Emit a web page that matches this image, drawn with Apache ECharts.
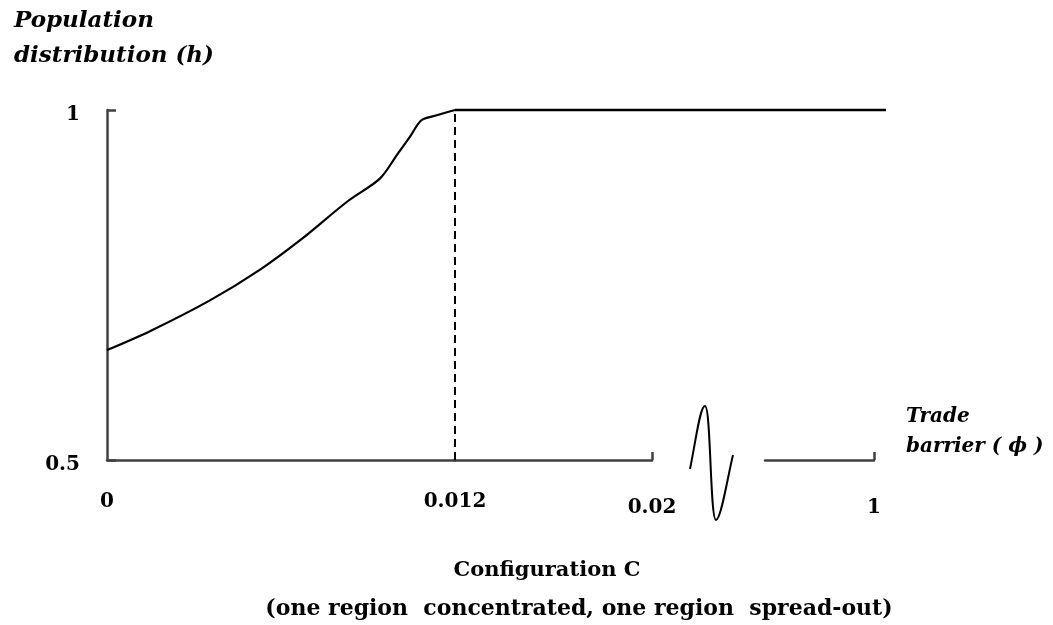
<!DOCTYPE html>
<html>
<head>
<meta charset="utf-8">
<script src="https://cdn.jsdelivr.net/npm/echarts@6/dist/echarts.min.js"></script>
<style>
html,body{margin:0;padding:0;background:#fff;}
#chart{width:1053px;height:625px;}
</style>
</head>
<body>
<div id="chart"></div>
<script>
// ---- data ----
const curvePhi = [0, 0.00148, 0.00355, 0.00528, 0.00666, 0.00831, 0.00941, 0.0100, 0.01045, 0.01083, 0.01124, 0.012];
const curveH   = [0.657, 0.684, 0.728, 0.772, 0.814, 0.870, 0.902, 0.936, 0.962, 0.985, 0.991, 1.0];
const flatPhi  = [0.012, 1];
const flatH    = [1, 1];
const thresholdPhi = [0.012, 0.012];
const thresholdH   = [0.5, 1];
const yTickValues = [0.5, 1];
const yTickLabels = ['0.5', '1'];
const xTickValues = [0, 0.012, 0.02, 1];
const xTickLabels = ['0', '0.012', '0.02', '1'];
const yTitle = 'Population\ndistribution (h)';
const xTitle = 'Trade\nbarrier ( \u03d5 )';
const titleLine1 = 'Configuration C';
const titleLine2 = '(one region  concentrated, one region  spread-out)';

const FONT = '"DejaVu Serif", "Liberation Serif", serif';
const AXIS_COLOR = '#404040';
const zip = (a, b) => a.map((v, i) => [v, b[i]]);
const labelFor = (vals, labs) => v => {
  for (let i = 0; i < vals.length; i++) if (Math.abs(vals[i] - v) < 1e-9) return labs[i];
  return '';
};
const xLab = labelFor(xTickValues, xTickLabels);
const yLab = labelFor(yTickValues, yTickLabels);

const labelStyle = { color: '#000', fontFamily: FONT, fontWeight: 'bold', fontSize: 20 };

function xAxisFor(gridIndex, min, max, ticks, show, margin) {
  return {
    type: 'value', gridIndex, min, max, show,
    splitLine: { show: false },
    axisLine: { show: show, onZero: false, lineStyle: { color: AXIS_COLOR, width: 2.5 } },
    axisTick: { show: ticks.length > 0, inside: true, length: 8, customValues: ticks, lineStyle: { color: AXIS_COLOR, width: 2.5 } },
    axisLabel: Object.assign({ show: true, margin: margin, customValues: gridIndex === 0 ? [0, 0.012] : ticks, formatter: xLab }, labelStyle)
  };
}
function yAxisFor(gridIndex, show) {
  return {
    type: 'value', gridIndex, min: 0.5, max: 1, interval: 0.5, show,
    splitLine: { show: false },
    axisLine: { show: show, lineStyle: { color: AXIS_COLOR, width: 2.5 } },
    axisTick: { show: show, inside: true, length: 9, lineStyle: { color: AXIS_COLOR, width: 2.5 } },
    axisLabel: Object.assign({ show: show, margin: 27, verticalAlign: 'top', lineHeight: 10, formatter: yLab }, labelStyle)
  };
}

const breakStyle = { fill: 'none', stroke: '#000', lineWidth: 2 };

const chart = echarts.init(document.getElementById('chart'), null, { renderer: 'canvas' });
chart.setOption({
  animation: false,
  backgroundColor: '#fff',
  grid: [
    { left: 107, top: 110, width: 348, height: 350 },
    { left: 455, top: 110, width: 197, height: 350 },
    { left: 765, top: 110, width: 109, height: 350 },
    { left: 455, top: 110, width: 431, height: 350 }
  ],
  xAxis: [
    xAxisFor(0, 0, 0.012, [], true, 32),
    xAxisFor(1, 0.012, 0.02, [0.02], true, 38),
    xAxisFor(2, 0.8, 1, [1], true, 38),
    { type: 'value', gridIndex: 3, min: 0.012, max: 1, show: false }
  ],
  yAxis: [yAxisFor(0, true), yAxisFor(1, false), yAxisFor(2, false), yAxisFor(3, false)],
  series: [
    {
      type: 'line', xAxisIndex: 0, yAxisIndex: 0,
      data: zip(thresholdPhi, thresholdH),
      symbol: 'none', clip: false, silent: true,
      lineStyle: { color: '#000', width: 2, type: [8, 5] },
      emphasis: { disabled: true }
    },
    {
      type: 'line', xAxisIndex: 0, yAxisIndex: 0,
      data: zip(curvePhi, curveH),
      symbol: 'none', smooth: 0.3, clip: false,
      lineStyle: { color: '#000', width: 2.2 },
      emphasis: { disabled: true }
    },
    {
      type: 'line', xAxisIndex: 3, yAxisIndex: 3,
      data: zip(flatPhi, flatH),
      symbol: 'none', clip: false,
      lineStyle: { color: '#000', width: 2.5 },
      emphasis: { disabled: true }
    }
  ],
  graphic: [
    {
      type: 'text', x: 14, y: 4,
      style: { text: yTitle, fill: '#000', font: 'italic bold 23px ' + FONT, lineHeight: 35 }
    },
    {
      type: 'text', x: 906, y: 402,
      style: { text: xTitle, fill: '#000', font: 'italic bold 20px ' + FONT, lineHeight: 30 }
    },
    {
      type: 'text', x: 547, y: 571,
      style: { text: titleLine1, fill: '#000', font: 'bold 21px ' + FONT, align: 'center', verticalAlign: 'middle' }
    },
    {
      type: 'text', x: 579, y: 609,
      style: { text: titleLine2, fill: '#000', font: 'bold 22px ' + FONT, align: 'center', verticalAlign: 'middle' }
    },
    { type: 'bezierCurve', silent: true, shape: { x1: 690, y1: 469, cpx1: 696, cpy1: 440, cpx2: 700, cpy2: 406, x2: 705, y2: 406 }, style: breakStyle },
    { type: 'bezierCurve', silent: true, shape: { x1: 705, y1: 406, cpx1: 711, cpy1: 406, cpx2: 710, cpy2: 520, x2: 716, y2: 520 }, style: breakStyle },
    { type: 'bezierCurve', silent: true, shape: { x1: 716, y1: 520, cpx1: 721, cpy1: 520, cpx2: 728, cpy2: 475, x2: 733, y2: 455 }, style: breakStyle }
  ]
});
</script>
</body>
</html>
